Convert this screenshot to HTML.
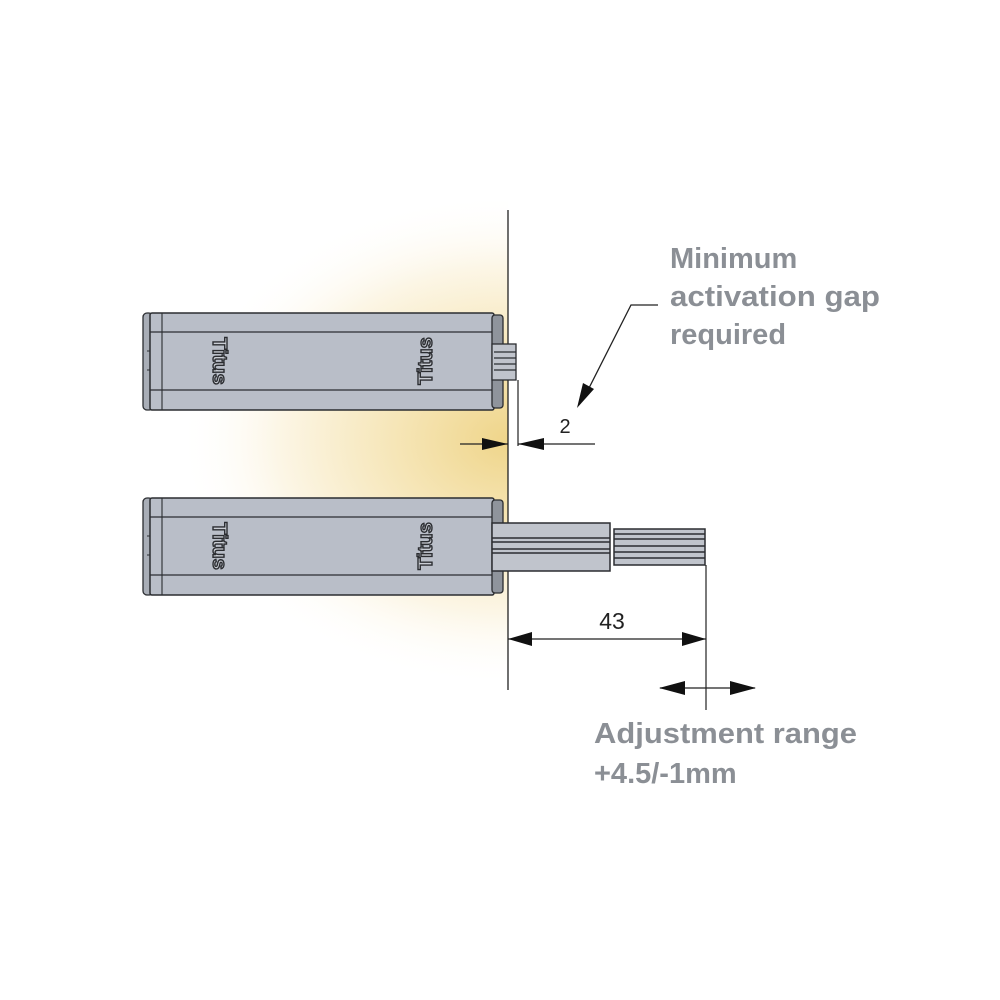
<!DOCTYPE html>
<html><head><style>
html,body{margin:0;padding:0;background:#fff;}
svg{display:block;}
</style></head><body>
<svg width="1000" height="1000" viewBox="0 0 1000 1000" xmlns="http://www.w3.org/2000/svg">
<defs>
<radialGradient id="glow" cx="508" cy="440" r="330" gradientUnits="userSpaceOnUse" gradientTransform="translate(508 440) scale(1 0.75) translate(-508 -440)">
<stop offset="0" stop-color="#efd58a"/>
<stop offset="0.35" stop-color="#f6e6b8"/>
<stop offset="0.7" stop-color="#fcf6e6"/>
<stop offset="1" stop-color="#ffffff" stop-opacity="0"/>
</radialGradient>
<clipPath id="leftclip"><rect x="0" y="0" width="508" height="1000"/></clipPath>
<g id="box">
<rect x="143" y="0" width="10" height="97" rx="4" fill="#a9aeb7" stroke="#2b2d31" stroke-width="1.3"/>
<rect x="150" y="0" width="344" height="97" rx="2" fill="#b9bec8" stroke="#2b2d31" stroke-width="1.5"/>
<line x1="150" y1="19" x2="494" y2="19" stroke="#2b2d31" stroke-width="1.2"/>
<line x1="150" y1="77" x2="494" y2="77" stroke="#2b2d31" stroke-width="1.2"/>
<line x1="162" y1="0" x2="162" y2="97" stroke="#2b2d31" stroke-width="1.1"/>
<line x1="147" y1="38" x2="150" y2="38" stroke="#2b2d31"/>
<line x1="147" y1="57" x2="150" y2="57" stroke="#2b2d31"/>
<rect x="492" y="2" width="11" height="93" rx="3" fill="#8f949c" stroke="#2b2d31" stroke-width="1.3"/>
<text transform="translate(213 48) rotate(90)" text-anchor="middle" font-family="Liberation Sans, sans-serif" font-weight="bold" font-size="20" fill="#c9cdd4" stroke="#2b2d31" stroke-width="1.4">Titus</text>
<text transform="translate(432 48) rotate(-90)" text-anchor="middle" font-family="Liberation Sans, sans-serif" font-weight="bold" font-size="20" fill="#c9cdd4" stroke="#2b2d31" stroke-width="1.4">Titus</text>
</g>
</defs>
<rect width="1000" height="1000" fill="#fff"/>
<rect x="150" y="200" width="358" height="480" fill="url(#glow)" clip-path="url(#leftclip)"/>

<line x1="508" y1="210" x2="508" y2="690" stroke="#222" stroke-width="1.3"/>

<use href="#box" transform="translate(0 313)"/>
<rect x="492" y="344" width="24" height="36" fill="#c0c4cc" stroke="#2b2d31" stroke-width="1.3"/>
<g stroke="#2b2d31" stroke-width="1.3">
<line x1="494" y1="352" x2="516" y2="352"/><line x1="494" y1="358" x2="516" y2="358"/>
<line x1="494" y1="364" x2="516" y2="364"/><line x1="494" y1="370" x2="516" y2="370"/>
</g>

<use href="#box" transform="translate(0 498)"/>
<rect x="492" y="523" width="118" height="48" fill="#c0c4cc" stroke="#2b2d31" stroke-width="1.5"/>
<g stroke="#2b2d31" stroke-width="1.5">
<line x1="492" y1="538" x2="610" y2="538"/><line x1="492" y1="542" x2="610" y2="542"/>
<line x1="492" y1="549" x2="610" y2="549"/><line x1="492" y1="553" x2="610" y2="553"/>
</g>
<rect x="614" y="529" width="91" height="36" fill="#c0c4cc" stroke="#2b2d31" stroke-width="1.5"/>
<g stroke="#2b2d31" stroke-width="1.5">
<line x1="614" y1="534" x2="705" y2="534"/><line x1="614" y1="539" x2="705" y2="539"/>
<line x1="614" y1="546" x2="705" y2="546"/><line x1="614" y1="552" x2="705" y2="552"/>
<line x1="614" y1="558" x2="705" y2="558"/>
</g>

<line x1="518" y1="380" x2="518" y2="446" stroke="#222" stroke-width="1.2"/>
<line x1="460" y1="444" x2="508" y2="444" stroke="#222" stroke-width="1.2"/>
<polygon points="508,444 482,438 482,450" fill="#111"/>
<line x1="518" y1="444" x2="595" y2="444" stroke="#222" stroke-width="1.2"/>
<polygon points="518,444 544,438 544,450" fill="#111"/>
<text x="565" y="433" text-anchor="middle" font-family="Liberation Sans, sans-serif" font-size="20" fill="#222">2</text>

<polyline points="658,305 631,305 588,390" fill="none" stroke="#222" stroke-width="1.3"/>
<polygon points="577,408 583,383 594,389" fill="#111"/>

<line x1="706" y1="565" x2="706" y2="710" stroke="#222" stroke-width="1.2"/>
<line x1="508" y1="639" x2="706" y2="639" stroke="#222" stroke-width="1.2"/>
<polygon points="508,639 532,632 532,646" fill="#111"/>
<polygon points="706,639 682,632 682,646" fill="#111"/>
<text x="612" y="629" text-anchor="middle" font-family="Liberation Sans, sans-serif" font-size="23" fill="#222">43</text>

<line x1="660" y1="688" x2="755" y2="688" stroke="#222" stroke-width="1.2"/>
<polygon points="659,688 685,681 685,695" fill="#111"/>
<polygon points="756,688 730,681 730,695" fill="#111"/>

<g font-family="Liberation Sans, sans-serif" font-weight="bold" font-size="29" fill="#8b8f95">
<text x="670" y="268">Minimum</text>
<text x="670" y="306" textLength="210" lengthAdjust="spacingAndGlyphs">activation gap</text>
<text x="670" y="344">required</text>
<text x="594" y="743" textLength="263" lengthAdjust="spacingAndGlyphs">Adjustment range</text>
<text x="594" y="783">+4.5/-1mm</text>
</g>
</svg>
</body></html>
